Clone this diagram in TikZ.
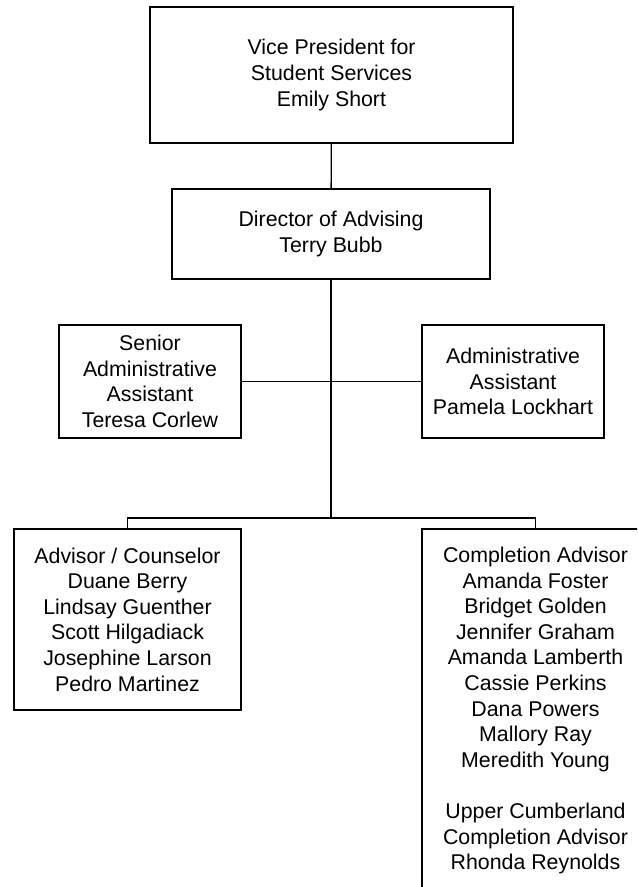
\documentclass[tikz,border=0pt]{standalone}
\usepackage{fontspec}
\setmainfont{Liberation Sans}
\tikzset{
  post/.style={draw, line width=1pt, align=center, inner sep=0pt,
    font=\fontsize{16}{19.2}\selectfont},
  link/.style={line width=1pt},
  trunk/.style={line width=1.5pt}
}
\begin{document}
\begin{tikzpicture}[x=0.75pt, y=-0.75pt]
    % page frame
    \path[use as bounding box] (0, 0) rectangle (637, 887);
    \clip (0, 0) rectangle (637, 887);

    % vice president
    \node[post, minimum width=272.25pt, minimum height=102pt] (vp) at (331.5, 75)
        {Vice President for\\Student Services\\Emily Short};

    % director
    \node[post, minimum width=238.5pt, minimum height=67.5pt] (dir) at (331, 234)
        {Director of Advising\\Terry Bubb};

    % assistants
    \node[post, minimum width=136.5pt, minimum height=84.75pt] (senior) at (150, 381.5)
        {Senior\\Administrative\\Assistant\\Teresa Corlew};
    \node[post, minimum width=136.5pt, minimum height=84.75pt] (admin) at (513, 381.5)
        {Administrative\\Assistant\\Pamela Lockhart};

    % advisor group
    \node[post, minimum width=170.25pt, minimum height=135.75pt] (advisor) at (127.5, 619.5)
        {Advisor / Counselor\\Duane Berry\\Lindsay Guenther\\Scott Hilgadiack\\Josephine Larson\\Pedro Martinez};

    % completion group (runs off the page)
    \node[post, minimum width=170.25pt, minimum height=272.25pt] (compl) at (535.5, 710.5)
        {Completion Advisor\\Amanda Foster\\Bridget Golden\\Jennifer Graham\\Amanda Lamberth\\Cassie Perkins\\Dana Powers\\Mallory Ray\\Meredith Young\\~\\Upper Cumberland\\Completion Advisor\\Rhonda Reynolds};

    % connectors
    \coordinate (bus) at (331, 518);
    \draw[link] (vp) -- (dir);
    \draw[trunk] (dir) -- (bus);
    \draw[link] (senior) -- (admin);
    \draw[link] (advisor.north) |- (bus) -| (compl.north);
\end{tikzpicture}
\end{document}
